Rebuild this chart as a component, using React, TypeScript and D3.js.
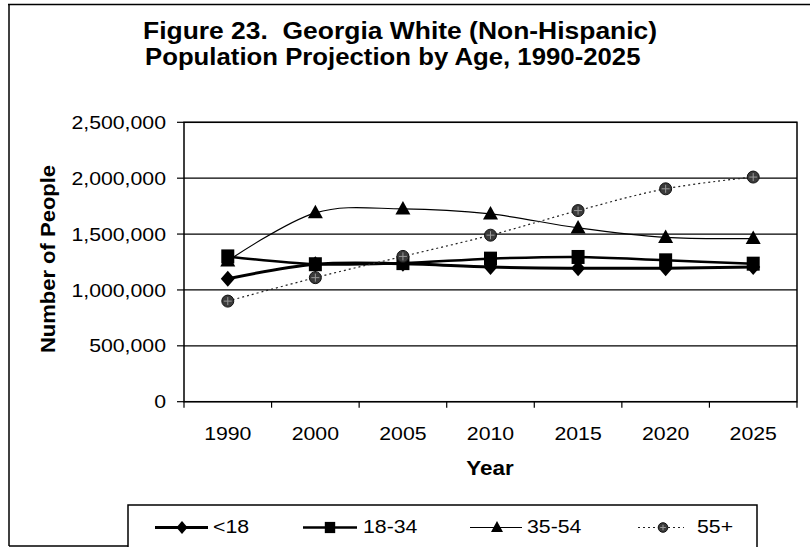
import React from "react";
import * as d3 from "d3";

const years = ["1990", "2000", "2005", "2010", "2015", "2020", "2025"];
const under18 = [1100000, 1230000, 1235000, 1205000, 1195000, 1195000, 1205000];
const age18to34 = [1300000, 1230000, 1240000, 1280000, 1295000, 1265000, 1235000];
const age35to54 = [1260000, 1690000, 1725000, 1680000, 1555000, 1470000, 1460000];
const age55plus = [900000, 1110000, 1300000, 1490000, 1710000, 1905000, 2010000];
const seriesNames = ["<18", "18-34", "35-54", "55+"];
const yTicks = [0, 500000, 1000000, 1500000, 2000000, 2500000];
const titleLines = ["Figure 23.  Georgia White (Non-Hispanic)", "Population Projection by Age, 1990-2025"];

const W = 810;
const H = 547;
const FONT = "'Liberation Sans', Arial, sans-serif";
const SX = 1.15;

type MType = "diamond" | "square" | "triangle" | "circle";

function Marker({ type, x, y, s = 1 }: { type: MType; x: number; y: number; s?: number }) {
  if (type === "diamond") {
    return <polygon points={`${x},${y - 8 * s} ${x + 7 * s},${y} ${x},${y + 8 * s} ${x - 7 * s},${y}`} fill="#000" />;
  }
  if (type === "square") {
    return <rect x={x - 6.5 * s} y={y - 7 * s} width={13 * s} height={14 * s} fill="#000" />;
  }
  if (type === "triangle") {
    return <polygon points={`${x},${y - 8 * s} ${x + 7.5 * s},${y + 5.5 * s} ${x - 7.5 * s},${y + 5.5 * s}`} fill="#000" />;
  }
  const r = 6 * s;
  return (
    <g>
      <circle cx={x} cy={y} r={r} fill="#3a3a3a" stroke="#111" strokeWidth={1} />
      <line x1={x - r + 2} x2={x + r - 2} y1={y} y2={y} stroke="#999" strokeWidth={1} />
      <line x1={x} x2={x} y1={y - r + 2} y2={y + r - 2} stroke="#999" strokeWidth={1} />
    </g>
  );
}

export default function App() {
  const x = d3.scaleBand<string>().domain(years).range([184, 797]);
  const y = d3.scaleLinear().domain([0, 2500000]).range([401.7, 122.3]);
  const cx = (yr: string) => (x(yr) as number) + x.bandwidth() / 2;

  const series = [
    { name: seriesNames[0], values: under18, type: "diamond" as MType, width: 3, dash: undefined as string | undefined, color: "#000" },
    { name: seriesNames[1], values: age18to34, type: "square" as MType, width: 2.5, dash: undefined, color: "#000" },
    { name: seriesNames[2], values: age35to54, type: "triangle" as MType, width: 1.2, dash: undefined, color: "#000" },
    { name: seriesNames[3], values: age55plus, type: "circle" as MType, width: 1.2, dash: "2,3", color: "#222" },
  ];

  const line = d3
    .line<number>()
    .x((_, i) => cx(years[i]))
    .y((d) => y(d))
    .curve(d3.curveCatmullRom.alpha(0));

  const fmt = d3.format(",");

  const legendItems = [
    { x1: 155, x2: 208, mx: 182, tx: 213 },
    { x1: 303, x2: 357, mx: 330, tx: 363 },
    { x1: 470, x2: 522, mx: 497, tx: 527 },
    { x1: 638, x2: 684, mx: 663, tx: 697 },
  ];
  const legendY = 527.5;

  const ticksX = [...years.map((yr) => x(yr) as number), 797];

  return (
    <svg width={W} height={H} style={{ position: "absolute", left: 0, top: 0, background: "#fff" }} fontFamily={FONT}>
      <rect x={0} y={0} width={W} height={H} fill="#fff" />
      {/* outer frame */}
      <line x1={8} x2={W} y1={4.5} y2={4.5} stroke="#000" strokeWidth={1.5} />
      <line x1={9} x2={9} y1={4} y2={546} stroke="#000" strokeWidth={1.5} />
      <line x1={9} x2={128} y1={546} y2={546} stroke="#000" strokeWidth={1.5} />

      {/* title */}
      <text transform={`translate(143,39) scale(1.15,1.05)`} fontSize={23} fontWeight="bold" style={{ whiteSpace: "pre" }}>
        {titleLines[0]}
      </text>
      <text transform={`translate(145,64.5) scale(1.12,1.05)`} fontSize={23} fontWeight="bold" style={{ whiteSpace: "pre" }}>
        {titleLines[1]}
      </text>

      {/* gridlines */}
      {yTicks.map((t) => (
        <line key={t} x1={184} x2={797} y1={y(t)} y2={y(t)} stroke="#000" strokeWidth={1.2} />
      ))}
      {/* plot border */}
      <rect x={184} y={y(2500000)} width={797 - 184} height={y(0) - y(2500000)} fill="none" stroke="#000" strokeWidth={1.5} />

      {/* y ticks and labels */}
      {yTicks.map((t) => (
        <g key={"yt" + t}>
          <line x1={177} x2={184} y1={y(t)} y2={y(t)} stroke="#000" strokeWidth={1.2} />
          <text transform={`translate(166,${y(t) + 6.6}) scale(${SX},1)`} fontSize={18.5} textAnchor="end">
            {fmt(t)}
          </text>
        </g>
      ))}

      {/* x ticks */}
      {ticksX.map((tx, i) => (
        <line key={"xt" + i} x1={tx} x2={tx} y1={y(0)} y2={y(0) + 6} stroke="#000" strokeWidth={1.2} />
      ))}
      {years.map((yr) => (
        <text key={"xl" + yr} transform={`translate(${cx(yr)},440) scale(${SX},1)`} fontSize={18.5} textAnchor="middle">
          {yr}
        </text>
      ))}

      {/* axis titles */}
      <text transform={`translate(490,475) scale(${SX},1)`} fontSize={19.5} fontWeight="bold" textAnchor="middle">
        Year
      </text>
      <text transform={`translate(55,259) rotate(-90) scale(1.1,1)`} fontSize={20} fontWeight="bold" textAnchor="middle">
        Number of People
      </text>

      {/* series lines */}
      {series.map((s) => (
        <path
          key={"l" + s.name}
          d={line(s.values) || ""}
          fill="none"
          stroke={s.color}
          strokeWidth={s.width}
          strokeDasharray={s.dash}
        />
      ))}
      {/* markers */}
      {series.map((s) =>
        s.values.map((v, i) => <Marker key={s.name + i} type={s.type} x={cx(years[i])} y={y(v)} />)
      )}

      {/* legend */}
      <rect x={128} y={505} width={757 - 128} height={60} fill="#fff" stroke="#000" strokeWidth={1.5} />
      {series.map((s, i) => {
        const it = legendItems[i];
        return (
          <g key={"lg" + s.name}>
            <line x1={it.x1} x2={it.x2} y1={legendY} y2={legendY} stroke={s.color} strokeWidth={s.width} strokeDasharray={s.dash} />
            <Marker type={s.type} x={it.mx} y={legendY} s={0.8} />
            <text transform={`translate(${it.tx},533.3) scale(${SX},1)`} fontSize={18.5}>
              {s.name}
            </text>
          </g>
        );
      })}
    </svg>
  );
}
